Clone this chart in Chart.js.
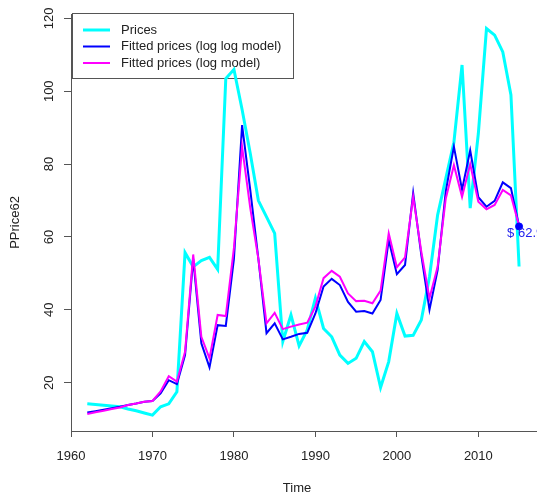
<!DOCTYPE html>
<html>
<head>
<meta charset="utf-8">
<script src="https://cdn.jsdelivr.net/npm/chart.js@4.4.0/dist/chart.umd.min.js"></script>
<style>
  body { margin: 0; background: #fff; }
  canvas { display: block; }
</style>
</head>
<body>
<canvas id="c" width="537" height="495"></canvas>
<script>
const years = [1962, 1963, 1964, 1965, 1966, 1967, 1968, 1969, 1970, 1971,
    1972, 1973, 1974, 1975, 1976, 1977, 1978, 1979, 1980, 1981,
    1982, 1983, 1984, 1985, 1986, 1987, 1988, 1989, 1990, 1991,
    1992, 1993, 1994, 1995, 1996, 1997, 1998, 1999, 2000, 2001,
    2002, 2003, 2004, 2005, 2006, 2007, 2008, 2009, 2010, 2011,
    2012, 2013, 2014, 2015];
const prices = [14.2, 14.0, 13.8, 13.6, 13.4, 12.8, 12.3, 11.7, 11.1, 13.4,
    14.2, 17.5, 55.7, 51.8, 53.5, 54.4, 51.1, 103.5, 106.0, 95.0,
    83.0, 70.0, 65.5, 61.0, 31.3, 38.6, 30.1, 34.5, 43.2, 34.9,
    32.6, 27.6, 25.3, 26.7, 31.3, 28.5, 18.7, 25.8, 39.0, 32.8,
    33.0, 37.2, 49.0, 66.0, 76.0, 86.0, 107.2, 67.9, 88.4, 117.2,
    115.4, 110.8, 99.0, 51.9];
const fitLogLog = [11.8, 12.2, 12.6, 13.0, 13.4, 13.9, 14.3, 14.8, 15.0, 17.1,
    20.7, 19.6, 27.6, 54.0, 30.8, 24.2, 35.8, 35.6, 54.0, 90.7,
    73.0, 54.0, 33.6, 36.3, 31.9, 32.6, 33.4, 33.7, 39.0, 46.4,
    48.5, 46.8, 42.2, 39.5, 39.7, 39.0, 42.7, 59.2, 49.8, 52.3,
    72.1, 55.0, 40.0, 50.9, 72.5, 84.8, 73.0, 83.8, 70.9, 68.3,
    69.9, 75.0, 73.4, 63.0];
const fitLog = [11.4, 11.9, 12.3, 12.8, 13.2, 13.9, 14.3, 14.8, 15.0, 17.6,
    21.8, 20.3, 28.5, 55.2, 32.6, 26.7, 38.6, 38.3, 57.0, 84.8,
    68.0, 54.0, 36.3, 39.2, 34.7, 35.4, 36.0, 36.5, 40.9, 48.7,
    50.7, 49.1, 44.5, 42.4, 42.5, 41.8, 45.3, 61.0, 51.7, 54.4,
    71.0, 56.0, 43.2, 51.8, 70.5, 79.7, 71.0, 80.0, 69.7, 67.6,
    68.8, 72.9, 71.4, 63.0];
const lastYear = [2015];
const lastFit = [62.9];
const lastLabel = '$ 62.9';
const yTicks = [20, 40, 60, 80, 100, 120];

const FONT = '"Liberation Sans", Arial, sans-serif';
const INK = '#222';
const AXIS = '#555';

function pts(xs, vals) {
    return xs.map((x, i) => ({ x: x, y: vals[i] }));
}

// R-style bits: legend box, rotated y labels, x title, point label
const rDecor = {
    id: 'rDecor',
    beforeDatasetsDraw(chart) {
        const ctx = chart.ctx;
        ctx.save();
        ctx.strokeStyle = AXIS;
        ctx.lineWidth = 1;
        ctx.strokeRect(72.5, 13.5, 221, 65);
        ctx.font = '13px ' + FONT;
        ctx.textBaseline = 'middle';
        ctx.fillStyle = INK;
        chart.data.datasets.slice(0, 3).forEach((ds, i) => {
            const y = 30 + i * 16.5;
            ctx.strokeStyle = ds.borderColor;
            ctx.lineWidth = ds.borderWidth;
            ctx.beginPath();
            ctx.moveTo(83, y);
            ctx.lineTo(110, y);
            ctx.stroke();
            ctx.fillText(ds.label, 121, y);
        });
        ctx.restore();
    },
    afterDraw(chart) {
        const ctx = chart.ctx;
        const ys = chart.scales.y, xs = chart.scales.x;
        ctx.save();
        ctx.font = '13px ' + FONT;
        ctx.fillStyle = INK;
        ctx.textAlign = 'center';
        ctx.textBaseline = 'middle';
        yTicks.forEach(v => {
            ctx.save();
            ctx.translate(49, ys.getPixelForValue(v));
            ctx.rotate(-Math.PI / 2);
            ctx.fillText(String(v), 0, 0);
            ctx.restore();
        });
        ctx.fillText('Time', 297, 488);
        ctx.fillStyle = '#2222ee';
        ctx.textAlign = 'left';
        ctx.fillText(lastLabel, xs.getPixelForValue(lastYear[0]) - 12, ys.getPixelForValue(lastFit[0]) + 7);
        ctx.restore();
    }
};

new Chart(document.getElementById('c').getContext('2d'), {
    type: 'line',
    data: {
        datasets: [
            {
                label: 'Prices',
                data: pts(years, prices),
                borderColor: '#00ffff',
                borderWidth: 3,
                pointRadius: 0,
                order: 3,
            },
            {
                label: 'Fitted prices (log log model)',
                data: pts(years, fitLogLog),
                borderColor: '#0000ff',
                borderWidth: 2,
                pointRadius: 0,
                order: 2,
            },
            {
                label: 'Fitted prices (log model)',
                data: pts(years, fitLog),
                borderColor: '#ff00ff',
                borderWidth: 2,
                pointRadius: 0,
                order: 1,
            },
            {
                label: 'forecast',
                data: pts(lastYear, lastFit),
                borderColor: '#0000ff',
                backgroundColor: '#0000ff',
                showLine: false,
                pointRadius: 3.5,
                borderWidth: 1,
                order: 0,
            }
        ]
    },
    options: {
        responsive: false,
        animation: false,
        layout: { autoPadding: false, padding: { top: 14, right: 0, left: 0, bottom: 0 } },
        plugins: {
            legend: { display: false },
            tooltip: { enabled: false }
        },
        scales: {
            x: {
                type: 'linear',
                min: 1960,
                max: 2017.2,
                afterFit: s => { s.height = 64; },
                ticks: {
                    stepSize: 10,
                    includeBounds: false,
                    maxRotation: 0,
                    padding: 12,
                    color: INK,
                    font: { family: FONT, size: 13 },
                    callback: v => String(v)
                },
                grid: {
                    drawOnChartArea: false,
                    drawTicks: true,
                    tickLength: 6,
                    color: AXIS
                },
                border: { display: true, color: AXIS }
            },
            y: {
                type: 'linear',
                min: 6.75,
                max: 121.2,
                afterFit: s => { s.width = 71; },
                ticks: {
                    display: false,
                    stepSize: 20,
                    includeBounds: false
                },
                grid: {
                    drawOnChartArea: false,
                    drawTicks: true,
                    tickLength: 7,
                    color: AXIS
                },
                border: { display: true, color: AXIS },
                title: {
                    display: true,
                    text: 'PPrice62',
                    color: INK,
                    font: { family: FONT, size: 13 },
                    padding: { top: 8, bottom: 0 }
                }
            }
        }
    },
    plugins: [rDecor]
});
</script>
</body>
</html>
